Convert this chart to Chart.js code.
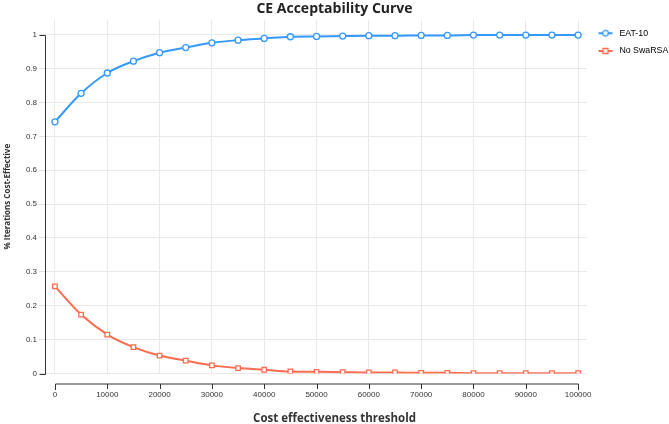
<!DOCTYPE html>
<html lang="en">

<head>
  <meta charset="UTF-8">
  <title>CE Acceptability Curve</title>
  <script src="https://cdn.jsdelivr.net/npm/chart.js"></script>
  <style>
    html, body { margin: 0; padding: 0; background: #fff; }
    #wrap { width: 669px; height: 424px; }
  </style>
</head>

<body>
  <div id="wrap"><canvas id="ceacChart"></canvas></div>

  <script>
    // thresholds (x) and probability cost-effective for each strategy
    const thresholds = [0, 5000, 10000, 15000, 20000, 25000, 30000, 35000, 40000, 45000, 50000,
      55000, 60000, 65000, 70000, 75000, 80000, 85000, 90000, 95000, 100000];
    const eat10 = [0.743, 0.827, 0.887, 0.922, 0.947, 0.962, 0.976, 0.984, 0.989, 0.994, 0.995,
      0.996, 0.997, 0.997, 0.998, 0.998, 0.999, 0.999, 0.999, 0.999, 0.999];
    const noSwaRSA = [0.257, 0.174, 0.115, 0.078, 0.053, 0.038, 0.024, 0.016, 0.011, 0.006, 0.005,
      0.004, 0.003, 0.003, 0.002, 0.002, 0.001, 0.001, 0.001, 0.001, 0.001];
    const xTicks = [0, 10000, 20000, 30000, 40000, 50000, 60000, 70000, 80000, 90000, 100000];
    const yTicks = [0, 0.1, 0.2, 0.3, 0.4, 0.5, 0.6, 0.7, 0.8, 0.9, 1];
    const yTickLabels = ['0', '0.1', '0.2', '0.3', '0.4', '0.5', '0.6', '0.7', '0.8', '0.9', '1'];

    const BLUE = '#3399ff';
    const RED = '#ff6b4f';

    Chart.defaults.font.family = '"Liberation Sans", Arial, sans-serif';
    Chart.defaults.color = '#333';

    // little line + marker icon for the legend
    function legendIcon(color, style) {
      const c = document.createElement('canvas');
      c.width = 20; c.height = 10;
      const g = c.getContext('2d');
      g.strokeStyle = color; g.lineWidth = 2;
      g.beginPath(); g.moveTo(3, 5); g.lineTo(17, 5); g.stroke();
      g.fillStyle = '#fff'; g.lineWidth = 1.3;
      g.beginPath();
      if (style === 'rect') g.rect(7.5, 2.5, 5, 5); else g.arc(10, 5, 2.8, 0, Math.PI * 2);
      g.fill(); g.stroke();
      return c;
    }

    // d3 style axis lines, offset from the plot
    const d3Axes = {
      id: 'd3Axes',
      afterDraw(chart) {
        const { ctx, scales: { x, y } } = chart;
        const x0 = Math.round(x.getPixelForValue(xTicks[0])) + 0.5;
        const x1 = Math.round(x.getPixelForValue(xTicks[xTicks.length - 1])) + 0.5;
        const y0 = Math.round(y.getPixelForValue(yTicks[0])) + 0.5;
        const y1 = Math.round(y.getPixelForValue(yTicks[yTicks.length - 1])) + 0.5;
        const ax = chart.chartArea.left + 0.5;
        const ay = chart.chartArea.bottom + 10.5;
        ctx.save();
        ctx.strokeStyle = '#333';
        ctx.lineWidth = 1;
        ctx.beginPath();
        ctx.moveTo(ax - 6, y1); ctx.lineTo(ax, y1); ctx.lineTo(ax, y0); ctx.lineTo(ax - 6, y0);
        ctx.moveTo(x0, ay + 6); ctx.lineTo(x0, ay); ctx.lineTo(x1, ay); ctx.lineTo(x1, ay + 6);
        xTicks.forEach(v => {
          const px = Math.round(x.getPixelForValue(v)) + 0.5;
          ctx.moveTo(px, ay); ctx.lineTo(px, ay + 5);
        });
        ctx.stroke();
        ctx.restore();
      }
    };

    new Chart(document.getElementById('ceacChart'), {
      type: 'line',
      data: {
        datasets: [{
          label: 'EAT-10',
          data: thresholds.map((t, i) => ({ x: t, y: eat10[i] })),
          borderColor: BLUE,
          backgroundColor: '#fff',
          borderWidth: 2,
          pointStyle: 'circle',
          pointRadius: 3,
          pointBorderWidth: 1.3,
          pointBackgroundColor: '#fff',
          pointBorderColor: BLUE,
          cubicInterpolationMode: 'monotone',
          fill: false
        }, {
          label: 'No SwaRSA',
          data: thresholds.map((t, i) => ({ x: t, y: noSwaRSA[i] })),
          borderColor: RED,
          backgroundColor: '#fff',
          borderWidth: 2,
          pointStyle: 'rect',
          pointRadius: 3.2,
          pointBorderWidth: 1.3,
          pointBackgroundColor: '#fff',
          pointBorderColor: RED,
          cubicInterpolationMode: 'monotone',
          fill: false
        }]
      },
      options: {
        responsive: true,
        maintainAspectRatio: false,
        animation: false,
        layout: { padding: 0 },
        plugins: {
          title: {
            display: true,
            text: 'CE Acceptability Curve',
            color: '#222',
            font: { family: '"Open Sans", sans-serif', size: 14, weight: 'bold' },
            padding: { top: 1, bottom: 2 }
          },
          subtitle: {
            display: true,
            position: 'bottom',
            text: 'Cost effectiveness threshold',
            color: '#333',
            font: { family: '"Open Sans", sans-serif', size: 11.5, weight: 'bold', lineHeight: 1 },
            padding: { top: 10, bottom: 0 }
          },
          legend: {
            position: 'right',
            align: 'start',
            fullSize: false,
            maxWidth: 82,
            labels: {
              usePointStyle: true,
              pointStyleWidth: 19,
              padding: 9,
              font: { size: 8.8 },
              color: '#333',
              generateLabels: chart => chart.data.datasets.map((ds, i) => ({
                text: ds.label,
                pointStyle: legendIcon(ds.borderColor, ds.pointStyle),
                fillStyle: '#fff',
                strokeStyle: ds.borderColor,
                lineWidth: 0,
                hidden: !chart.isDatasetVisible(i),
                datasetIndex: i
              }))
            }
          },
          tooltip: { enabled: false }
        },
        scales: {
          x: {
            type: 'linear',
            min: -1900,
            max: 101700,
            afterBuildTicks: s => { s.ticks = xTicks.map(v => ({ value: v })); },
            afterFit: s => { s.height = 29; },
            border: { display: false },
            grid: { color: '#e9e9e9', drawTicks: false },
            ticks: {
              padding: 16,
              maxRotation: 0,
              autoSkip: false,
              font: { size: 8 },
              color: '#333',
              callback: v => String(v)
            }
          },
          y: {
            min: 0,
            max: 1.044,
            afterBuildTicks: s => { s.ticks = yTicks.map(v => ({ value: v })); },
            afterFit: s => { s.width = 45; },
            border: { display: false },
            grid: { color: '#e9e9e9', tickColor: '#e0e0e0', tickLength: 6 },
            ticks: {
              padding: 2,
              autoSkip: false,
              font: { size: 8 },
              color: '#333',
              callback: (v, i) => yTickLabels[i]
            },
            title: {
              display: true,
              text: '% Iterations Cost-Effective',
              color: '#333',
              font: { family: '"Open Sans", sans-serif', size: 8, weight: 'bold' },
              padding: { top: 3, bottom: 0 }
            }
          }
        }
      },
      plugins: [d3Axes]
    });
  </script>

</body>

</html>
